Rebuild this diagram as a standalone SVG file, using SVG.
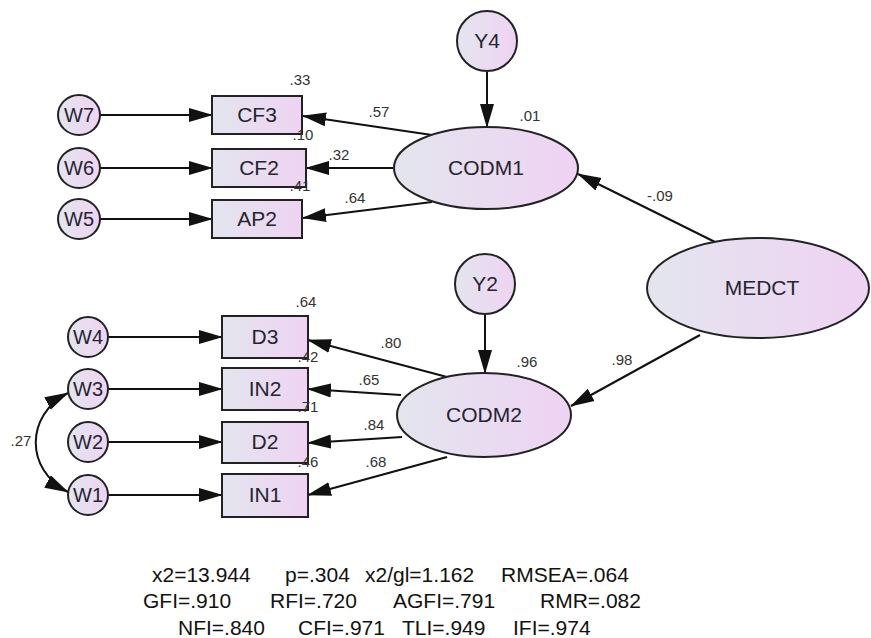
<svg xmlns="http://www.w3.org/2000/svg" width="871" height="638" viewBox="0 0 871 638">
<defs>
<linearGradient id="g" x1="0" y1="0" x2="1" y2="0">
<stop offset="0" stop-color="#e3e5ee"/>
<stop offset="1" stop-color="#efd3f3"/>
</linearGradient>
<marker id="ah" markerUnits="userSpaceOnUse" markerWidth="24" markerHeight="16" viewBox="0 0 24 16" refX="23" refY="8" orient="auto-start-reverse">
<path d="M0,1 L24,8 L0,15 Z" fill="#111"/>
</marker>
<style>
.n{fill:url(#g);stroke:#222;stroke-width:2}
.t{font-family:"Liberation Sans",Arial,sans-serif;font-size:21px;fill:#25252f;text-anchor:middle}
.w{font-size:20px}
.l{font-family:"Liberation Sans",Arial,sans-serif;font-size:15px;fill:#333;text-anchor:middle}
.f{font-family:"Liberation Sans",Arial,sans-serif;font-size:21px;fill:#111}
.c{fill:none;stroke:#111;stroke-width:2;marker-end:url(#ah)}
</style>
</defs>
<rect width="871" height="638" fill="#fff"/>

<g id="connectors">
<path class="c" d="M100,115 L212,115"/>
<path class="c" d="M100,168 L212,168"/>
<path class="c" d="M100,219 L212,219"/>
<path class="c" d="M432,135 L303,116"/>
<path class="c" d="M394,168 L306,168"/>
<path class="c" d="M432,202 L303,218"/>
<path class="c" d="M487,72 L487,127"/>
<path class="c" d="M715,242 L578,174"/>
<path class="c" d="M108,337 L222,337"/>
<path class="c" d="M108,389 L222,389"/>
<path class="c" d="M108,442 L222,442"/>
<path class="c" d="M108,495 L222,495"/>
<path class="c" d="M447,377 L308,340"/>
<path class="c" d="M401,395 L308,389"/>
<path class="c" d="M402,437 L308,443"/>
<path class="c" d="M447,457 L308,495"/>
<path class="c" d="M485,315 L485,373"/>
<path class="c" d="M700,335 L571,406"/>
<path class="c" d="M68,393 C25,415 25,470 68,492" marker-start="url(#ah)"/>
</g>

<g id="W7"><ellipse class="n" cx="79" cy="115" rx="21" ry="20"/><text class="t w" x="79" y="122">W7</text></g>
<g id="W6"><ellipse class="n" cx="79" cy="168" rx="21" ry="20"/><text class="t w" x="79" y="175">W6</text></g>
<g id="W5"><ellipse class="n" cx="79" cy="219" rx="21" ry="20"/><text class="t w" x="79" y="226">W5</text></g>
<g id="CF3"><rect class="n" x="212" y="96" width="90" height="38"/><text class="t" x="257" y="122">CF3</text></g>
<g id="CF2"><rect class="n" x="212" y="149" width="94" height="38"/><text class="t" x="259" y="175">CF2</text></g>
<g id="AP2"><rect class="n" x="212" y="200" width="90" height="38"/><text class="t" x="257" y="226">AP2</text></g>
<g id="Y4"><circle class="n" cx="487" cy="41" r="30"/><text class="t" x="487" y="48">Y4</text></g>
<g id="CODM1"><ellipse class="n" cx="486" cy="168" rx="92" ry="41"/><text class="t" x="486" y="175">CODM1</text></g>
<g id="MEDCT"><ellipse class="n" cx="758" cy="288" rx="111" ry="50"/><text class="t" x="762" y="295">MEDCT</text></g>
<g id="W4"><ellipse class="n" cx="88" cy="337" rx="20" ry="20"/><text class="t w" x="88" y="344">W4</text></g>
<g id="W3"><ellipse class="n" cx="88" cy="389" rx="20" ry="20"/><text class="t w" x="88" y="396">W3</text></g>
<g id="W2"><ellipse class="n" cx="88" cy="442" rx="20" ry="20"/><text class="t w" x="88" y="449">W2</text></g>
<g id="W1"><ellipse class="n" cx="88" cy="495" rx="20" ry="20"/><text class="t w" x="88" y="502">W1</text></g>
<g id="D3"><rect class="n" x="222" y="316" width="86" height="42"/><text class="t" x="265" y="344">D3</text></g>
<g id="IN2"><rect class="n" x="222" y="368" width="86" height="42"/><text class="t" x="265" y="396">IN2</text></g>
<g id="D2"><rect class="n" x="222" y="422" width="86" height="41"/><text class="t" x="265" y="449">D2</text></g>
<g id="IN1"><rect class="n" x="222" y="474" width="86" height="43"/><text class="t" x="265" y="502">IN1</text></g>
<g id="Y2"><circle class="n" cx="485" cy="284" r="30"/><text class="t" x="485" y="291">Y2</text></g>
<g id="CODM2"><ellipse class="n" cx="484" cy="415" rx="87" ry="42"/><text class="t" x="484" y="422">CODM2</text></g>

<g id="labels">
<text class="l" x="300" y="85">.33</text>
<text class="l" x="303" y="140">.10</text>
<text class="l" x="300" y="191">.41</text>
<text class="l" x="379" y="117">.57</text>
<text class="l" x="339" y="160">.32</text>
<text class="l" x="355" y="203">.64</text>
<text class="l" x="530" y="121">.01</text>
<text class="l" x="660" y="201">-.09</text>
<text class="l" x="306" y="307">.64</text>
<text class="l" x="308" y="362">.42</text>
<text class="l" x="308" y="412">.71</text>
<text class="l" x="308" y="467">.46</text>
<text class="l" x="391" y="348">.80</text>
<text class="l" x="369" y="385">.65</text>
<text class="l" x="374" y="430">.84</text>
<text class="l" x="376" y="467">.68</text>
<text class="l" x="527" y="367">.96</text>
<text class="l" x="622" y="365">.98</text>
<text class="l" x="21" y="446">.27</text>
</g>

<g id="fit">
<text class="f" x="152" y="582">x2=13.944</text>
<text class="f" x="285" y="582">p=.304</text>
<text class="f" x="365" y="582">x2/gl=1.162</text>
<text class="f" x="501" y="582">RMSEA=.064</text>
<text class="f" x="143" y="608">GFI=.910</text>
<text class="f" x="270" y="608">RFI=.720</text>
<text class="f" x="393" y="608">AGFI=.791</text>
<text class="f" x="540" y="608">RMR=.082</text>
<text class="f" x="178" y="635">NFI=.840</text>
<text class="f" x="298" y="635">CFI=.971</text>
<text class="f" x="402" y="635">TLI=.949</text>
<text class="f" x="513" y="635">IFI=.974</text>
</g>
</svg>
